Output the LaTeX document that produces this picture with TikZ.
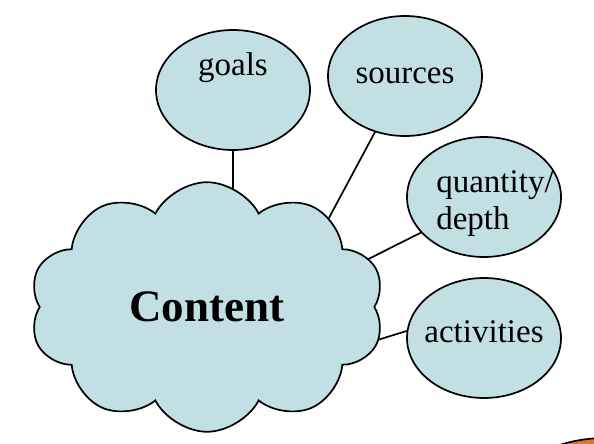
\documentclass[tikz,border=0pt]{standalone}
\usepackage{fontspec}
\setmainfont{Liberation Serif}
\usetikzlibrary{shapes.geometric, shapes.symbols, positioning, backgrounds}
\definecolor{cBubble}{RGB}{194,224,228}
\definecolor{cOrange}{RGB}{236,112,38}
\tikzset{
	bubble/.style={ellipse, draw=black, line width=1.7pt, fill=cBubble, minimum width=154pt, minimum height=120pt, inner sep=0pt, font=\fontsize{33}{37}\selectfont},
	word/.style={font=\fontsize{33}{37}\selectfont, inner sep=0pt, align=left},
	topic/.style={cloud, cloud puffs=10, cloud puff arc=125, draw=black, line width=1.7pt, fill=cBubble, minimum width=355pt, minimum height=245pt, inner sep=0pt, font=\fontsize{45}{54}\selectfont\bfseries},
	link/.style={line width=1.7pt},
}
\begin{document}
\begin{tikzpicture}[x=1pt, y=-1pt]
	\path[use as bounding box] (0,0) rectangle (594,444);
	\begin{scope}
		\clip (0,0) rectangle (594,444);
		\filldraw[fill=cOrange, draw=black, line width=1.7pt] (605,588) circle (150);
	\end{scope}
	% cloud and the four topics
	\node[topic] (content) at (207,307) {Content};
	\node[bubble] (goals) at (233,90) {};
	\node[word] at ([yshift=22pt]goals.center) {goals};
	\node[bubble] (sources) at (405,76) {sources};
	\node[bubble] (quantity) at (484,197) {};
	\node[word] at ([xshift=11pt, yshift=-7pt]quantity.center) {quantity/\\depth};
	\node[bubble] (activities) at (484,338) {};
	\node[word] at ([yshift=6pt]activities.center) {activities};
	\coordinate (hubS) at (285,300);
	\coordinate (hubQ) at (207,340);
	\coordinate (hubA) at (300,364);
	\begin{scope}[on background layer]
		\draw[link] (goals.center) -- (goals.center |- content.center);
		\draw[link] (sources.center) -- (hubS);
		\draw[link] ([yshift=-4pt]quantity.center) -- (hubQ);
		\draw[link] ([yshift=31pt]activities.center) -- (hubA);
	\end{scope}
\end{tikzpicture}
\end{document}
